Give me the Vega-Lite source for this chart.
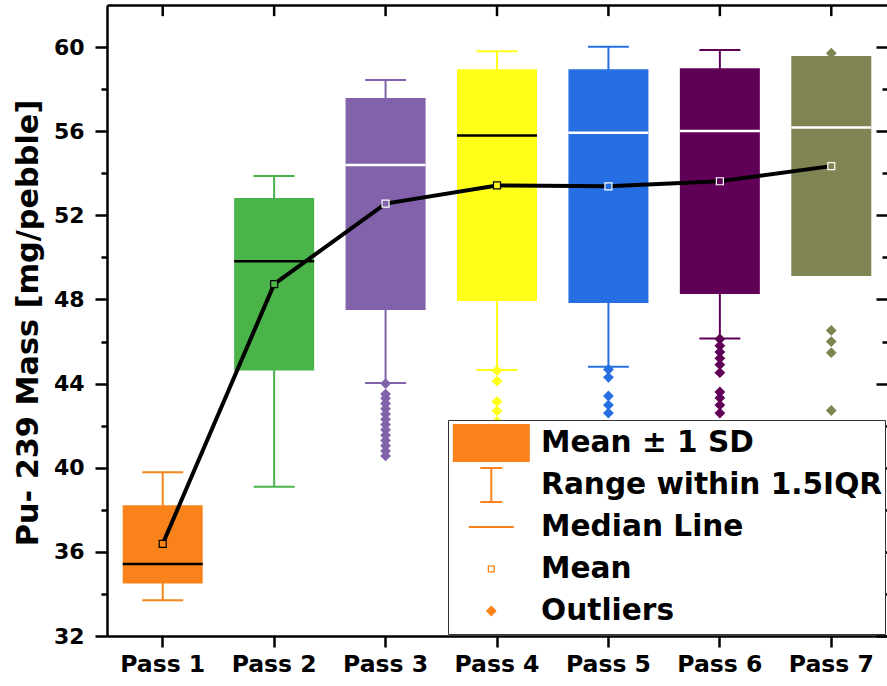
{
  "$schema": "https://vega.github.io/schema/vega-lite/v6.json",
  "width": 780,
  "height": 631,
  "autosize": "none",
  "padding": {"left": 107, "top": 5, "right": 0, "bottom": 50},
  "background": "white",
  "config": {
    "view": {"stroke": null},
    "font": "DejaVu Sans",
    "axis": {"domainColor": "black", "tickColor": "black", "grid": false, "domainWidth": 2.5, "tickWidth": 2.5}
  },
  "datasets": {
    "stats": [
      {"pass": "Pass 1", "lo": 34.5, "hi": 38.22, "mean": 36.38, "median": 35.42, "wlo": 33.7, "whi": 39.78, "tone": "dark"},
      {"pass": "Pass 2", "lo": 44.62, "hi": 52.82, "mean": 48.73, "median": 49.82, "wlo": 39.1, "whi": 53.87, "tone": "dark"},
      {"pass": "Pass 3", "lo": 47.5, "hi": 57.58, "mean": 52.56, "median": 54.39, "wlo": 44.03, "whi": 58.43, "tone": "light"},
      {"pass": "Pass 4", "lo": 47.93, "hi": 58.94, "mean": 53.42, "median": 55.79, "wlo": 44.65, "whi": 59.8, "tone": "dark"},
      {"pass": "Pass 5", "lo": 47.83, "hi": 58.94, "mean": 53.38, "median": 55.93, "wlo": 44.8, "whi": 60.02, "tone": "light"},
      {"pass": "Pass 6", "lo": 48.26, "hi": 58.99, "mean": 53.62, "median": 56.01, "wlo": 46.15, "whi": 59.86, "tone": "light"},
      {"pass": "Pass 7", "lo": 49.12, "hi": 59.57, "mean": 54.34, "median": 56.18, "wlo": 49.4, "whi": 59.4, "tone": "light"}
    ],
    "outliers": [
      {"pass": "Pass 3", "value": 44.0, "kind": "Outliers"},
      {"pass": "Pass 3", "value": 43.5, "kind": "Outliers"},
      {"pass": "Pass 3", "value": 43.3, "kind": "Outliers"},
      {"pass": "Pass 3", "value": 43.05, "kind": "Outliers"},
      {"pass": "Pass 3", "value": 42.8, "kind": "Outliers"},
      {"pass": "Pass 3", "value": 42.55, "kind": "Outliers"},
      {"pass": "Pass 3", "value": 42.3, "kind": "Outliers"},
      {"pass": "Pass 3", "value": 42.05, "kind": "Outliers"},
      {"pass": "Pass 3", "value": 41.8, "kind": "Outliers"},
      {"pass": "Pass 3", "value": 41.55, "kind": "Outliers"},
      {"pass": "Pass 3", "value": 41.3, "kind": "Outliers"},
      {"pass": "Pass 3", "value": 41.05, "kind": "Outliers"},
      {"pass": "Pass 3", "value": 40.8, "kind": "Outliers"},
      {"pass": "Pass 3", "value": 40.56, "kind": "Outliers"},
      {"pass": "Pass 4", "value": 44.62, "kind": "Outliers"},
      {"pass": "Pass 4", "value": 44.12, "kind": "Outliers"},
      {"pass": "Pass 4", "value": 43.15, "kind": "Outliers"},
      {"pass": "Pass 4", "value": 42.7, "kind": "Outliers"},
      {"pass": "Pass 4", "value": 42.2, "kind": "Outliers"},
      {"pass": "Pass 5", "value": 44.67, "kind": "Outliers"},
      {"pass": "Pass 5", "value": 44.3, "kind": "Outliers"},
      {"pass": "Pass 5", "value": 43.41, "kind": "Outliers"},
      {"pass": "Pass 5", "value": 42.98, "kind": "Outliers"},
      {"pass": "Pass 5", "value": 42.6, "kind": "Outliers"},
      {"pass": "Pass 6", "value": 46.12, "kind": "Outliers"},
      {"pass": "Pass 6", "value": 45.8, "kind": "Outliers"},
      {"pass": "Pass 6", "value": 45.5, "kind": "Outliers"},
      {"pass": "Pass 6", "value": 45.2, "kind": "Outliers"},
      {"pass": "Pass 6", "value": 44.9, "kind": "Outliers"},
      {"pass": "Pass 6", "value": 44.52, "kind": "Outliers"},
      {"pass": "Pass 6", "value": 43.6, "kind": "Outliers"},
      {"pass": "Pass 6", "value": 43.32, "kind": "Outliers"},
      {"pass": "Pass 6", "value": 42.98, "kind": "Outliers"},
      {"pass": "Pass 6", "value": 42.6, "kind": "Outliers"},
      {"pass": "Pass 7", "value": 59.71, "kind": "Outliers"},
      {"pass": "Pass 7", "value": 46.53, "kind": "Outliers"},
      {"pass": "Pass 7", "value": 46.0, "kind": "Outliers"},
      {"pass": "Pass 7", "value": 45.47, "kind": "Outliers"},
      {"pass": "Pass 7", "value": 42.72, "kind": "Outliers"}
    ]
  },
  "resolve": {"axis": {"x": "independent", "y": "independent"}},
  "layer": [
    {
      "data": {"name": "stats"},
      "mark": {"type": "rule", "strokeWidth": 2},
      "encoding": {
        "x": {"field": "pass", "type": "nominal",
          "sort": ["Pass 1", "Pass 2", "Pass 3", "Pass 4", "Pass 5", "Pass 6", "Pass 7"],
          "scale": {"paddingInner": 0, "paddingOuter": 0},
          "axis": {"orient": "bottom", "title": null, "labelAngle": 0, "tickSize": 11, "labelPadding": 5,
            "labelFont": "DejaVu Sans", "labelFontSize": 23.5, "labelFontWeight": "bold", "labelColor": "black"}},
        "y": {"field": "wlo", "type": "quantitative",
          "scale": {"domain": [32, 62], "nice": false, "zero": false},
          "axis": {"orient": "left", "values": [32, 36, 40, 44, 48, 52, 56, 60], "tickSize": 12, "labelPadding": 11,
            "labelFont": "DejaVu Sans", "labelFontSize": 22, "labelFontWeight": "bold", "labelColor": "black",
            "title": "Pu- 239 Mass [mg/pebble]", "titleFont": "DejaVu Sans", "titleFontSize": 30.3,
            "titleFontWeight": "bold", "titleColor": "black", "titleX": -64, "titleY": 317.5}},
        "y2": {"field": "whi"},
        "color": {"field": "pass", "type": "nominal", "legend": null,
          "scale": {"domain": ["Pass 1", "Pass 2", "Pass 3", "Pass 4", "Pass 5", "Pass 6", "Pass 7"],
            "range": ["#F9831A", "#4AB34A", "#8262AA", "#FFFF1A", "#256FE2", "#600057", "#7F8452"]}}
      }
    },
    {
      "data": {"name": "stats"},
      "mark": {"type": "tick", "size": 41, "thickness": 2, "opacity": 1},
      "encoding": {
        "x": {"field": "pass", "type": "nominal", "axis": null},
        "y": {"field": "wlo", "type": "quantitative",
          "axis": {"orient": "left", "values": [34, 38, 42, 46, 50, 54, 58], "tickSize": 6, "labels": false, "domain": false, "title": null}},
        "color": {"field": "pass", "type": "nominal", "legend": null}
      }
    },
    {
      "data": {"name": "stats"},
      "mark": {"type": "tick", "size": 41, "thickness": 2, "opacity": 1},
      "encoding": {
        "x": {"field": "pass", "type": "nominal",
          "axis": {"orient": "top", "ticks": false, "labels": false, "domain": true, "title": null}},
        "y": {"field": "whi", "type": "quantitative",
          "axis": {"orient": "right", "values": [32, 36, 40, 44, 48, 52, 56, 60], "tickSize": -11, "labels": false, "domain": false, "title": null}},
        "color": {"field": "pass", "type": "nominal", "legend": null}
      }
    },
    {
      "data": {"name": "stats"},
      "mark": {"type": "rule", "strokeWidth": 2.5, "color": "black"},
      "encoding": {
        "x": {"field": "pass", "type": "nominal", "axis": null},
        "y": {"datum": 62, "type": "quantitative", "axis": null},
        "y2": {"datum": 61.47}
      }
    },
    {
      "data": {"name": "stats"},
      "mark": {"type": "bar", "width": 80},
      "encoding": {
        "x": {"field": "pass", "type": "nominal", "axis": null},
        "y": {"field": "lo", "type": "quantitative",
          "axis": {"orient": "right", "values": [34, 38, 42, 46, 50, 54, 58], "tickSize": -5, "labels": false, "domain": false, "title": null}},
        "y2": {"field": "hi"},
        "color": {"field": "pass", "type": "nominal", "legend": null}
      }
    },
    {
      "data": {"name": "stats"},
      "mark": {"type": "tick", "size": 80, "thickness": 2.5, "opacity": 1},
      "encoding": {
        "x": {"field": "pass", "type": "nominal", "axis": null},
        "y": {"field": "median", "type": "quantitative", "axis": null},
        "fill": {"field": "tone", "type": "nominal", "legend": null,
          "scale": {"domain": ["dark", "light"], "range": ["black", "white"]}}
      }
    },
    {
      "data": {"name": "outliers"},
      "mark": {"type": "point", "filled": true, "size": 4, "opacity": 1},
      "encoding": {
        "x": {"field": "pass", "type": "nominal", "axis": null},
        "y": {"field": "value", "type": "quantitative", "axis": null},
        "color": {"field": "pass", "type": "nominal", "legend": null},
        "shape": {"field": "kind", "type": "nominal",
          "scale": {
            "domain": ["Mean ± 1 SD", "Range within 1.5IQR", "Median Line", "Mean", "Outliers"],
            "range": [
              "M-38.5,-19H38.5V19H-38.5Z",
              "M-11,-18H11V-16H1V16H11V18H-11V16H-1V-16H-11Z",
              "M-22.5,-1.1H22.5V1.1H-22.5Z",
              "M-3.6,-3.6H3.6V3.6H-3.6ZM-2.3,-2.3V2.3H2.3V-2.3Z",
              "M0,-5.4L5.4,0L0,5.4L-5.4,0Z"
            ]
          },
          "legend": {
            "orient": "none", "legendX": 341, "legendY": 415, "title": null,
            "padding": 2, "fillColor": "white", "strokeColor": "#333333",
            "symbolSize": 4, "symbolOffset": 26.5, "labelOffset": 35,
            "symbolFillColor": "#F9831A", "symbolStrokeColor": "#F9831A", "symbolStrokeWidth": 0,
            "symbolOpacity": 1,
            "clipHeight": 42, "rowPadding": 0,
            "labelFont": "DejaVu Sans", "labelFontSize": 29.6, "labelFontWeight": "bold",
            "labelColor": "black", "labelLimit": 600
          }
        }
      }
    },
    {
      "data": {"name": "stats"},
      "mark": {"type": "line", "color": "black", "strokeWidth": 4},
      "encoding": {
        "x": {"field": "pass", "type": "nominal", "axis": null},
        "y": {"field": "mean", "type": "quantitative", "axis": null}
      }
    },
    {
      "data": {"name": "stats"},
      "mark": {"type": "point", "shape": "square", "filled": true, "size": 49, "opacity": 1, "strokeWidth": 1.2},
      "encoding": {
        "x": {"field": "pass", "type": "nominal", "axis": null},
        "y": {"field": "mean", "type": "quantitative", "axis": null},
        "color": {"field": "pass", "type": "nominal", "legend": null},
        "stroke": {"field": "tone", "type": "nominal", "legend": null,
          "scale": {"domain": ["dark", "light"], "range": ["black", "white"]}}
      }
    }
  ]
}
